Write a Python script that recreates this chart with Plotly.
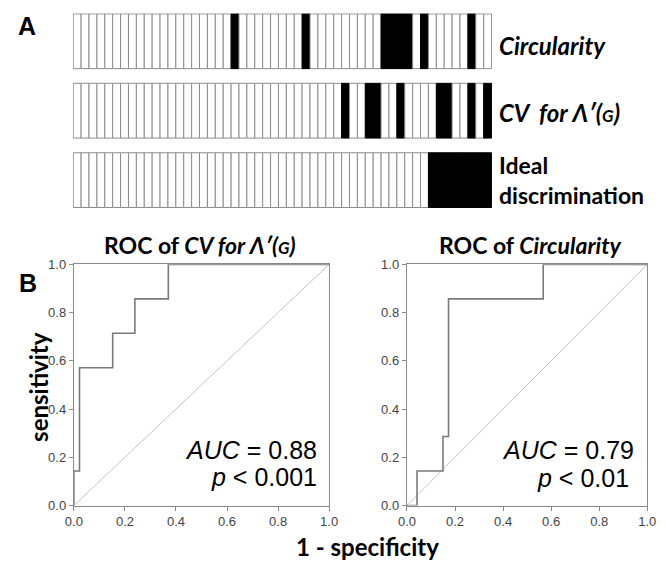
import plotly.graph_objects as go

# ---------------- data ----------------
n_cells = 53
circularity_black = [20, 29, 39, 40, 41, 42, 44, 50]
cv_black = [34, 37, 38, 41, 46, 47, 50, 52]
ideal_black = [45, 46, 47, 48, 49, 50, 51, 52]
strip_labels = ["Circularity", "CV for Λ′(G)", "Ideal discrimination"]

roc_cv_fpr = [0.0, 0.0, 0.022, 0.022, 0.152, 0.152, 0.239, 0.239, 0.370, 0.370, 1.0]
roc_cv_tpr = [0.0, 0.143, 0.143, 0.571, 0.571, 0.714, 0.714, 0.857, 0.857, 1.0, 1.0]

roc_circ_fpr = [0.0, 0.042, 0.042, 0.150, 0.150, 0.173, 0.173, 0.567, 0.567, 1.0]
roc_circ_tpr = [0.0, 0.0, 0.143, 0.143, 0.286, 0.286, 0.857, 0.857, 1.0, 1.0]

diag = [0.0, 1.0]
tick_vals = [0.0, 0.2, 0.4, 0.6, 0.8, 1.0]

W, H = 666, 570


def px(x):
    return x / W


def py(y):
    return 1 - y / H


fig = go.Figure()

# ---------------- panel A: strips ----------------
strip_h = 1.0
strip_gap = 0.268
cell_line = "#8c8c8c"
for i, blacks in enumerate([circularity_black, cv_black, ideal_black]):
    cols = ["black" if c in blacks else "white" for c in range(n_cells)]
    lcols = ["black" if c in blacks else cell_line for c in range(n_cells)]
    fig.add_trace(go.Bar(
        x=list(range(n_cells)), y=[strip_h] * n_cells,
        base=[i * (strip_h + strip_gap)] * n_cells,
        width=1.0,
        marker=dict(color=cols, line=dict(color=lcols, width=1)),
        xaxis="x3", yaxis="y3", showlegend=False, hoverinfo="skip",
    ))

ytop = 3 * strip_h + 2 * strip_gap

# ---------------- panel B: ROC ----------------
roc_line = "#7a7a7a"
diag_col = "#c4c4c4"
fig.add_trace(go.Scatter(x=diag, y=diag, mode="lines", line=dict(color=diag_col, width=1),
                         xaxis="x", yaxis="y", showlegend=False, hoverinfo="skip"))
fig.add_trace(go.Scatter(x=roc_cv_fpr, y=roc_cv_tpr, mode="lines",
                         line=dict(color=roc_line, width=1.6),
                         xaxis="x", yaxis="y", showlegend=False))
fig.add_trace(go.Scatter(x=diag, y=diag, mode="lines", line=dict(color=diag_col, width=1),
                         xaxis="x2", yaxis="y2", showlegend=False, hoverinfo="skip"))
fig.add_trace(go.Scatter(x=roc_circ_fpr, y=roc_circ_tpr, mode="lines",
                         line=dict(color=roc_line, width=1.6),
                         xaxis="x2", yaxis="y2", showlegend=False))

axis_common = dict(
    range=[0, 1], showgrid=False, zeroline=False, showline=True, mirror=True,
    linecolor="#8a8a8a", linewidth=1.3, ticks="outside", ticklen=4,
    tickcolor="#8a8a8a", tickvals=tick_vals, tickformat=".1f",
    tickfont=dict(family="Liberation Sans, Arial", size=13, color="#444444"),
)

ydom = [py(512), py(264.3)]
fig.update_layout(
    width=W, height=H,
    margin=dict(l=0, r=0, t=0, b=0),
    paper_bgcolor="white", plot_bgcolor="white",
    barmode="overlay",
    xaxis=dict(domain=[px(66.7), px(329)], anchor="y", **axis_common),
    yaxis=dict(domain=ydom, anchor="x", **axis_common),
    xaxis2=dict(domain=[px(409), px(656)], anchor="y2", **axis_common),
    yaxis2=dict(domain=ydom, anchor="x2", **axis_common),
    xaxis3=dict(domain=[px(65.6), px(496.4)], range=[-0.55, n_cells - 0.45],
                visible=False, anchor="y3"),
    yaxis3=dict(domain=[py(206.5), py(6.5)], range=[ytop + 0.01, -0.01],
                visible=False, anchor="x3"),
)

lab_font = dict(family="Lato, Open Sans, sans-serif", size=24, color="black")
ann = []
# strip labels
ann.append(dict(x=px(502), y=py(40), text="<b><i>Circularity</i></b>",
                xanchor="left", yanchor="middle", font=lab_font))
ann.append(dict(x=px(502), y=py(108),
                text="<b><i>CV  for Λ′(<span style='font-size:17px'>G</span>)</i></b>",
                xanchor="left", yanchor="middle", font=lab_font))
ann.append(dict(x=px(502), y=py(178), text="<b>Ideal</b><br><b>discrimination</b>",
                xanchor="left", yanchor="middle", align="left",
                font=dict(family="Lato, Open Sans, sans-serif", size=23, color="black")))

# panel letters
letter_font = dict(family="Liberation Sans, Arial", size=25, color="black")
ann.append(dict(x=px(19), y=py(20), text="<b>A</b>", xanchor="center", yanchor="middle", font=letter_font))
ann.append(dict(x=px(20), y=py(283), text="<b>B</b>", xanchor="center", yanchor="middle", font=letter_font))

# ROC titles
title_font = dict(family="Lato, Open Sans, sans-serif", size=23, color="black")
ann.append(dict(x=px(196), y=py(244),
                text="<b>ROC of <i>CV for Λ′(<span style='font-size:17px'>G</span>)</i></b>",
                xanchor="center", yanchor="middle", font=title_font))
ann.append(dict(x=px(536), y=py(244), text="<b>ROC of <i>Circularity</i></b>",
                xanchor="center", yanchor="middle", font=title_font))

# axis titles
axt_font = dict(family="Lato, Open Sans, sans-serif", size=24, color="black")
ann.append(dict(x=px(31), y=py(390), text="<b>sensitivity</b>", textangle=-90,
                xanchor="center", yanchor="middle", font=axt_font))
ann.append(dict(x=px(368), y=py(554), text="<b>1 - specificity</b>",
                xanchor="center", yanchor="middle", font=axt_font))

# AUC text
auc_font = dict(family="Liberation Sans, Arial", size=25, color="black")
ann.append(dict(x=px(319), y=py(455), text="<i>AUC</i> = 0.88",
                xanchor="right", yanchor="middle", font=auc_font))
ann.append(dict(x=px(319), y=py(483), text="<i>p</i> &lt; 0.001",
                xanchor="right", yanchor="middle", font=auc_font))
ann.append(dict(x=px(644), y=py(455), text="<i>AUC</i> = 0.79",
                xanchor="right", yanchor="middle", font=auc_font))
ann.append(dict(x=px(639), y=py(484), text="<i>p</i> &lt; 0.01",
                xanchor="right", yanchor="middle", font=auc_font))

for a in ann:
    a.update(xref="paper", yref="paper", showarrow=False)
fig.update_layout(annotations=ann)

fig.write_html(
    "out.html",
    config={"displayModeBar": False},
    post_script="document.body.style.margin='0px';document.body.style.overflow='hidden';",
)
